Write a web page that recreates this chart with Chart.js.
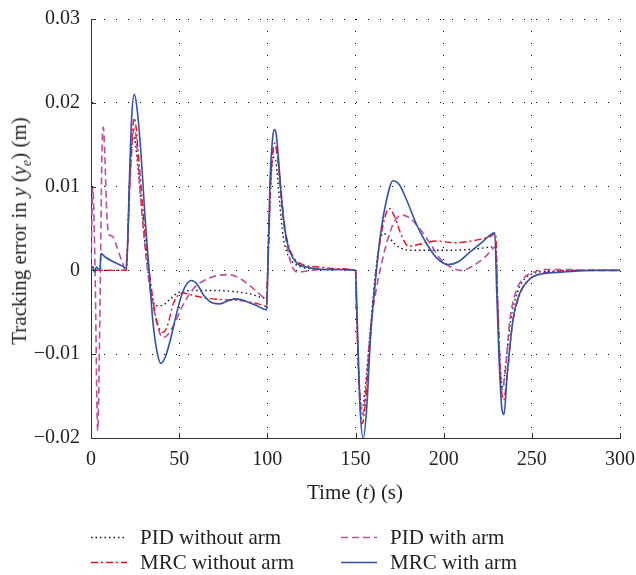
<!DOCTYPE html>
<html>
<head>
<meta charset="utf-8">
<script src="https://cdn.jsdelivr.net/npm/chart.js@4.4.1/dist/chart.umd.min.js"></script>
<style>
    html, body { margin: 0; padding: 0; background: #fff; }
    #wrap { position: relative; width: 636px; height: 575px; font-family: "Liberation Serif", "DejaVu Serif", serif; color: #231f20; }
    #c { position: absolute; left: 0; top: 0; }
    .ytitle { position: absolute; left: 21px; top: 231px; font-size: 21px; white-space: nowrap; transform: translate(-50%, -50%) rotate(-90deg); }
    .xtitle { position: absolute; left: 355px; top: 492px; font-size: 21px; white-space: nowrap; transform: translate(-50%, -50%); }
    .leg { position: absolute; font-size: 21px; white-space: nowrap; display: flex; align-items: center; transform: translateY(-50%); }
    .leg svg { margin-right: 13px; }
    sub { font-size: 0.65em; }
</style>
</head>
<body>
<div id="wrap">
    <canvas id="c" width="636" height="575"></canvas>
    <div class="ytitle">Tracking error in <i>y</i> (<i>y<sub>e</sub></i>) (m)</div>
    <div class="xtitle">Time (<i>t</i>) (s)</div>
    <div class="leg" style="left:91px; top:537px;"><svg width="36" height="6"><line x1="0" y1="3" x2="36" y2="3" stroke="#111" stroke-width="1.4" stroke-dasharray="1.5 3"/></svg>PID without arm</div>
    <div class="leg" style="left:341px; top:537px;"><svg width="36" height="6"><line x1="0" y1="3" x2="36" y2="3" stroke="#b9519f" stroke-width="1.6" stroke-dasharray="7 4"/></svg>PID with arm</div>
    <div class="leg" style="left:91px; top:562px;"><svg width="36" height="6"><line x1="0" y1="3" x2="36" y2="3" stroke="#e8101a" stroke-width="1.4" stroke-dasharray="7 3 2 3"/></svg>MRC without arm</div>
    <div class="leg" style="left:341px; top:562px;"><svg width="36" height="6"><line x1="0" y1="3" x2="36" y2="3" stroke="#3152a6" stroke-width="1.6"/></svg>MRC with arm</div>
</div>
<script>
// Tracking error curves (time in s, error in m)

const xTicks = [0, 50, 100, 150, 200, 250, 300];
const yTicks = [-0.02, -0.01, 0, 0.01, 0.02, 0.03];

const tPidNoArm = [0, 20, 20.5, 22, 23.5, 24.5, 26, 28, 30, 32, 34, 36.5, 40, 45, 50, 60, 70, 80, 90, 99.5,
    100.5, 102, 103.5, 105, 107, 109, 111, 114, 118, 125, 135, 150,
    150.5, 152, 153.8, 155.5, 158, 161, 163, 165.5, 168, 172, 178, 185, 200, 215, 229.5,
    230.5, 232, 233.5, 235, 238, 242, 246, 252, 260, 275, 300];
const ePidNoArm = [0, 0, 0.002, 0.011, 0.0155, 0.016, 0.0135, 0.009, 0.0045, 0.0005, -0.0025, -0.0042, -0.0042, -0.0034, -0.0026, -0.0024, -0.0024, -0.0025, -0.0028, -0.0033,
    0.002, 0.0105, 0.0135, 0.0128, 0.008, 0.004, 0.0022, 0.0011, 0.0005, 0.0002, 0.0001, 0,
    -0.004, -0.013, -0.0165, -0.014, -0.008, -0.001, 0.0025, 0.0044, 0.0042, 0.0032, 0.0025, 0.0024, 0.0024, 0.0025, 0.0028,
    -0.003, -0.011, -0.014, -0.0115, -0.006, -0.0025, -0.001, -0.0003, -0.0001, 0, 0];

const tMrcNoArm = [0, 20, 20.5, 22, 23.5, 24.5, 25.5, 27, 29, 31, 33, 35, 37, 40.5, 43, 47, 52, 58, 65, 75, 85, 95, 99.5,
    100.5, 102, 103.5, 104.5, 106, 108, 110, 112, 115, 120, 130, 140, 150,
    150.5, 152, 153.8, 155.5, 158, 161.5, 164, 166.5, 169, 172, 176, 180, 186, 195, 207, 218, 226, 229.5,
    230.5, 232, 234, 236, 239, 243, 248, 255, 265, 280, 300];
const eMrcNoArm = [0, 0, 0.002, 0.0105, 0.0165, 0.0182, 0.0172, 0.0135, 0.0085, 0.0035, 0, -0.0033, -0.0058, -0.0074, -0.0068, -0.0038, -0.0027, -0.003, -0.0033, -0.0035, -0.0036, -0.004, -0.0043,
    0.002, 0.011, 0.0148, 0.0152, 0.0135, 0.009, 0.005, 0.003, 0.0015, 0.0007, 0.0004, 0.0002, 0,
    -0.004, -0.0135, -0.0183, -0.016, -0.009, -0.0005, 0.0035, 0.0062, 0.0074, 0.0065, 0.0042, 0.0029, 0.0031, 0.0035, 0.0033, 0.0036, 0.004, 0.0044,
    -0.003, -0.012, -0.0155, -0.0125, -0.0065, -0.003, -0.0012, -0.0004, -0.0001, 0, 0];

const tPidArm = [0, 1, 2.3, 3.8, 5, 6.2, 7, 7.8, 9, 10.5, 12, 14, 16, 18, 19.5,
    20.5, 22, 23.5, 24.5, 25.5, 27, 29, 31, 33, 35, 38, 40.5, 43, 47, 52, 58, 65, 72, 77.5, 83, 90, 95, 99.5,
    100.5, 102, 103.5, 104.5, 106, 108, 110, 112, 114, 117, 122, 130, 140, 150,
    150.5, 152, 154, 156, 158.5, 162, 165, 168, 172, 176.5, 181, 187, 193, 198, 204, 210, 217, 224, 229.5,
    230.5, 231.5, 233, 235, 237.5, 241, 245, 250, 258, 270, 285, 300];
const ePidArm = [0, 0.0099, 0, -0.0191, -0.006, 0.014, 0.0171, 0.014, 0.0065, 0.0042, 0.0041, 0.0032, 0.002, 0.0008, 0.0001,
    0.002, 0.01, 0.0155, 0.017, 0.016, 0.012, 0.0065, 0.002, -0.0015, -0.004, -0.0068, -0.008, -0.0078, -0.0065, -0.0042, -0.0022, -0.0011, -0.0006, -0.0005, -0.0008, -0.0018, -0.0027, -0.0034,
    0.002, 0.011, 0.0145, 0.0148, 0.013, 0.008, 0.0045, 0.002, 0.0005, -0.0002, -0.0001, 0.0001, 0.0001, 0,
    -0.004, -0.013, -0.0172, -0.014, -0.007, -0.002, 0.001, 0.0035, 0.0058, 0.0066, 0.0062, 0.0048, 0.003, 0.0014, 0.0004, 0, 0.0006, 0.0017, 0.0028,
    -0.003, -0.009, -0.0143, -0.012, -0.006, -0.0025, -0.001, -0.0003, 0.0001, 0.0001, 0, 0];

const tMrcArm = [0, 1, 2, 3, 4, 5, 5.7, 8, 12, 16, 20.2, 21.7, 23, 24.5, 26, 28.3, 30.7, 33, 34.9, 37, 39.6,
    42, 45, 48, 51, 54, 57, 60, 64, 69, 73, 78, 82, 88, 94, 99.6,
    100.5, 101.5, 103, 104, 105, 106, 107.5, 109, 111, 113, 117, 122, 132, 140, 150,
    151, 152.5, 154.4, 156.5, 158.5, 161.3, 164, 167, 171.3, 175, 179, 185, 190, 196, 202.6, 208, 215, 222, 229,
    230, 231.5, 233, 234.2, 236, 239.5, 243, 249, 256, 268, 285, 300];
const eMrcArm = [0, 0.0005, -0.0002, 0.0004, 0.0002, 0, 0.002, 0.0016, 0.0011, 0.0007, 0.0003, 0.0102, 0.018, 0.021, 0.0195, 0.0141, 0.0062, -0.0002, -0.0057, -0.0092, -0.0111,
    -0.0104, -0.0083, -0.0056, -0.0032, -0.0017, -0.0012, -0.0016, -0.003, -0.0039, -0.004, -0.0036, -0.0034, -0.0037, -0.0042, -0.0047,
    0.002, 0.0105, 0.0158, 0.0168, 0.0163, 0.0142, 0.01, 0.0065, 0.0036, 0.0021, 0.0008, 0.0004, 0.0001, 0.0001, 0,
    -0.006, -0.016, -0.0201, -0.016, -0.008, -0.0012, 0.004, 0.0078, 0.0107, 0.0102, 0.0084, 0.0053, 0.0033, 0.0015, 0.0007, 0.001, 0.0022, 0.0034, 0.0045,
    -0.002, -0.011, -0.0165, -0.0172, -0.0125, -0.0056, -0.0028, -0.001, -0.0004, -0.0002, 0, 0];

function toPoints(ts, es) {
    return ts.map((t, i) => ({ x: t, y: es[i] }));
}

// matlab style inward tick marks
const inwardTicks = {
    id: 'inwardTicks',
    afterDraw(chart) {
        const { ctx, chartArea, scales } = chart;
        ctx.save();
        ctx.strokeStyle = '#333';
        ctx.lineWidth = 1;
        ctx.beginPath();
        xTicks.forEach(v => {
            const x = Math.round(scales.x.getPixelForValue(v)) + 0.5;
            ctx.moveTo(x, chartArea.bottom);
            ctx.lineTo(x, chartArea.bottom - 5);
        });
        yTicks.forEach(v => {
            const y = Math.round(scales.y.getPixelForValue(v)) + 0.5;
            ctx.moveTo(chartArea.left, y);
            ctx.lineTo(chartArea.left + 5, y);
        });
        ctx.stroke();
        ctx.restore();
    }
};

const tickFont = { family: '"Liberation Serif", "DejaVu Serif", serif', size: 20 };

new Chart(document.getElementById('c'), {
    type: 'line',
    data: {
        datasets: [
            { label: 'PID without arm', data: toPoints(tPidNoArm, ePidNoArm), borderColor: '#111', borderWidth: 1.4, borderDash: [1.5, 3], order: 4 },
            { label: 'PID with arm', data: toPoints(tPidArm, ePidArm), borderColor: '#b9519f', borderWidth: 1.6, borderDash: [7, 4], order: 3 },
            { label: 'MRC without arm', data: toPoints(tMrcNoArm, eMrcNoArm), borderColor: '#e8101a', borderWidth: 1.4, borderDash: [7, 3, 2, 3], order: 2 },
            { label: 'MRC with arm', data: toPoints(tMrcArm, eMrcArm), borderColor: '#3152a6', borderWidth: 1.6, order: 1 }
        ]
    },
    options: {
        responsive: false,
        animation: false,
        devicePixelRatio: 1,
        layout: { padding: { left: 0, right: 16, top: 19, bottom: 77 } },
        elements: {
            point: { radius: 0 },
            line: { cubicInterpolationMode: 'monotone', fill: false }
        },
        plugins: {
            legend: { display: false },
            tooltip: { enabled: false }
        },
        scales: {
            x: {
                type: 'linear',
                min: 0,
                max: 300,
                afterFit: s => { s.height = 60; s.paddingLeft = 0; s.paddingRight = 0; },
                afterBuildTicks: s => { s.ticks = xTicks.map(v => ({ value: v })); },
                grid: { color: '#000', lineWidth: 1, drawTicks: false },
                border: { color: '#333', width: 1, dash: [1, 11] },
                ticks: { color: '#231f20', font: tickFont, padding: 10, maxRotation: 0, autoSkip: false }
            },
            y: {
                min: -0.02,
                max: 0.03,
                afterFit: s => { s.width = 91; s.paddingTop = 0; s.paddingBottom = 0; },
                afterBuildTicks: s => { s.ticks = yTicks.map(v => ({ value: v })); },
                grid: { color: '#000', lineWidth: 1, drawTicks: false },
                border: { color: '#333', width: 1, dash: [1, 11] },
                ticks: {
                    color: '#231f20',
                    font: tickFont,
                    padding: 11,
                    callback: function (value) {
                        if (Math.abs(value) < 1e-9) return '0';
                        return (value < 0 ? '\u2212' : '') + Math.abs(value).toFixed(2);
                    }
                }
            }
        }
    },
    plugins: [inwardTicks]
});
</script>
</body>
</html>
